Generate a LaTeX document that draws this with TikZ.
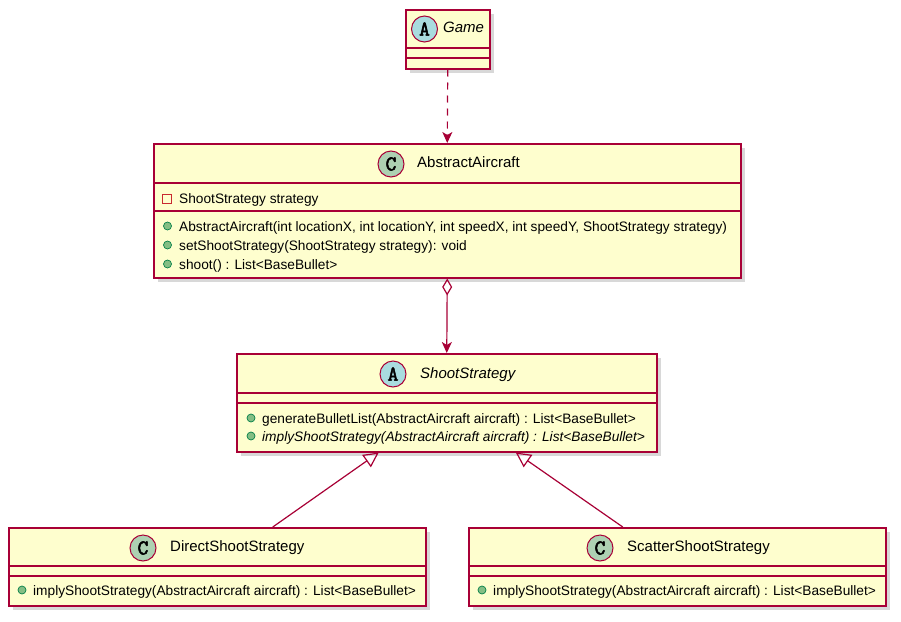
\documentclass[tikz,border=0pt]{standalone}
\usepackage{fontspec}
\setmainfont{Liberation Sans}
\newfontfamily\kindfont[FakeBold=2.5]{Latin Modern Mono}
\usetikzlibrary{arrows.meta,shadows}

\definecolor{umlfill}{HTML}{FEFECE}
\definecolor{umlline}{HTML}{A80036}
\definecolor{classcirc}{HTML}{ADD1B2}
\definecolor{abscirc}{HTML}{A9DCDF}
\definecolor{pubfill}{HTML}{84BE84}
\definecolor{publine}{HTML}{038048}
\definecolor{privline}{HTML}{C82930}

\begin{document}
\begin{tikzpicture}[x=1pt,y=-1pt,>={Stealth[length=11pt,width=10pt,inset=3pt]},
  class box/.style={rectangle,draw=umlline,fill=umlfill,line width=1.5pt,inner sep=0pt,anchor=north west,
    drop shadow={shadow xshift=4pt,shadow yshift=-4pt,opacity=.3}},
  sep line/.style={draw=umlline,line width=1.3pt},
  kind/.style={circle,draw=umlline,line width=1pt,minimum size=26pt,inner sep=0pt,
    font=\kindfont\fontsize{21}{21}\selectfont},
  class kind/.style={kind,fill=classcirc},
  abs kind/.style={kind,fill=abscirc},
  title/.style={anchor=west,inner sep=0pt,text height=1.6ex,text depth=.45ex,font=\fontsize{15}{17}\selectfont},
  member/.style={anchor=west,inner sep=0pt,text height=1.6ex,text depth=.45ex,font=\fontsize{13.7}{15}\selectfont},
  pub/.style={circle,fill=pubfill,draw=publine,line width=.7pt,minimum size=8pt,inner sep=0pt},
  priv/.style={rectangle,draw=privline,line width=.8pt,minimum size=9pt,inner sep=0pt},
  link/.style={draw=umlline,line width=1.2pt}]

  \useasboundingbox[fill=white] (0,0) rectangle (901,621);

  % class boxes
  \node[class box,minimum width=84pt,minimum height=59pt] (game) at (405,9) {};
  \node[class box,minimum width=587pt,minimum height=134pt] (abs) at (153,143) {};
  \node[class box,minimum width=420pt,minimum height=98pt] (shoot) at (236,353) {};
  \node[class box,minimum width=417pt,minimum height=78pt] (direct) at (8,527) {};
  \node[class box,minimum width=417pt,minimum height=78pt] (scatter) at (468,527) {};

  % compartments
  \draw[sep line] (game.north west) ++(0,39) -- ++(84,0);
  \draw[sep line] (game.north west) ++(0,49) -- ++(84,0);
  \draw[sep line] (abs.north west) ++(0,40) -- ++(587,0);
  \draw[sep line] (abs.north west) ++(0,68) -- ++(587,0);
  \draw[sep line] (shoot.north west) ++(0,40) -- ++(420,0);
  \draw[sep line] (shoot.north west) ++(0,50) -- ++(420,0);
  \draw[sep line] (direct.north west) ++(0,39) -- ++(417,0);
  \draw[sep line] (direct.north west) ++(0,49) -- ++(417,0);
  \draw[sep line] (scatter.north west) ++(0,39) -- ++(417,0);
  \draw[sep line] (scatter.north west) ++(0,49) -- ++(417,0);

  % Game
  \node[abs kind] (game-k) at (424.5,29) {A};
  \node[title] (game-t) at (443,29) {\itshape Game};

  % AbstractAircraft
  \node[class kind] (abs-k) at (391,164) {C};
  \node[title] (abs-t) at (417,164) {AbstractAircraft};
  \node[priv] (abs-a1-v) at (167,199) {};
  \node[member] (abs-a1) at (179,200) {ShootStrategy strategy};
  \node[pub] (abs-m1-v) at (167.5,226) {};
  \node[member] (abs-m1) at (179,228) {AbstractAircraft(int locationX, int locationY, int speedX, int speedY, ShootStrategy strategy)};
  \node[pub] (abs-m2-v) at (167.5,245) {};
  \node[member] (abs-m2) at (179,247) {setShootStrategy(ShootStrategy strategy): void};
  \node[pub] (abs-m3-v) at (167.5,264) {};
  \node[member] (abs-m3) at (179,266) {shoot() : List<BaseBullet>};

  % ShootStrategy
  \node[abs kind] (shoot-k) at (393,374) {A};
  \node[title] (shoot-t) at (420,375) {\itshape ShootStrategy};
  \node[pub] (shoot-m1-v) at (251,418) {};
  \node[member] (shoot-m1) at (262,420) {generateBulletList(AbstractAircraft aircraft) : List<BaseBullet>};
  \node[pub] (shoot-m2-v) at (251,436) {};
  \node[member] (shoot-m2) at (262,438) {\itshape implyShootStrategy(AbstractAircraft aircraft) : List<BaseBullet>};

  % DirectShootStrategy
  \node[class kind] (direct-k) at (143,548) {C};
  \node[title] (direct-t) at (170,548) {DirectShootStrategy};
  \node[pub] (direct-m1-v) at (22,590) {};
  \node[member] (direct-m1) at (33,592) {implyShootStrategy(AbstractAircraft aircraft) : List<BaseBullet>};

  % ScatterShootStrategy
  \node[class kind] (scatter-k) at (600,548) {C};
  \node[title] (scatter-t) at (627,548) {ScatterShootStrategy};
  \node[pub] (scatter-m1-v) at (482,590) {};
  \node[member] (scatter-m1) at (493,592) {implyShootStrategy(AbstractAircraft aircraft) : List<BaseBullet>};

  % relations
  \coordinate (direct-in) at ([xshift=55.5pt]direct.north);
  \coordinate (scatter-in) at ([xshift=-54.5pt]scatter.north);
  \coordinate (direct-tip) at ([xshift=-68pt]shoot.south);
  \coordinate (scatter-tip) at ([xshift=69pt]shoot.south);

  \draw[link,dash pattern=on 7pt off 6pt,->] (game.south) -- (abs.north);
  \draw[link,{Diamond[open,length=17pt,width=10pt]}->] (abs.south) -- (shoot.north);
  \draw[link,-{Triangle[open,length=15pt,width=15pt]}] (direct-in) -- (direct-tip);
  \draw[link,-{Triangle[open,length=15pt,width=15pt]}] (scatter-in) -- (scatter-tip);
\end{tikzpicture}
\end{document}
